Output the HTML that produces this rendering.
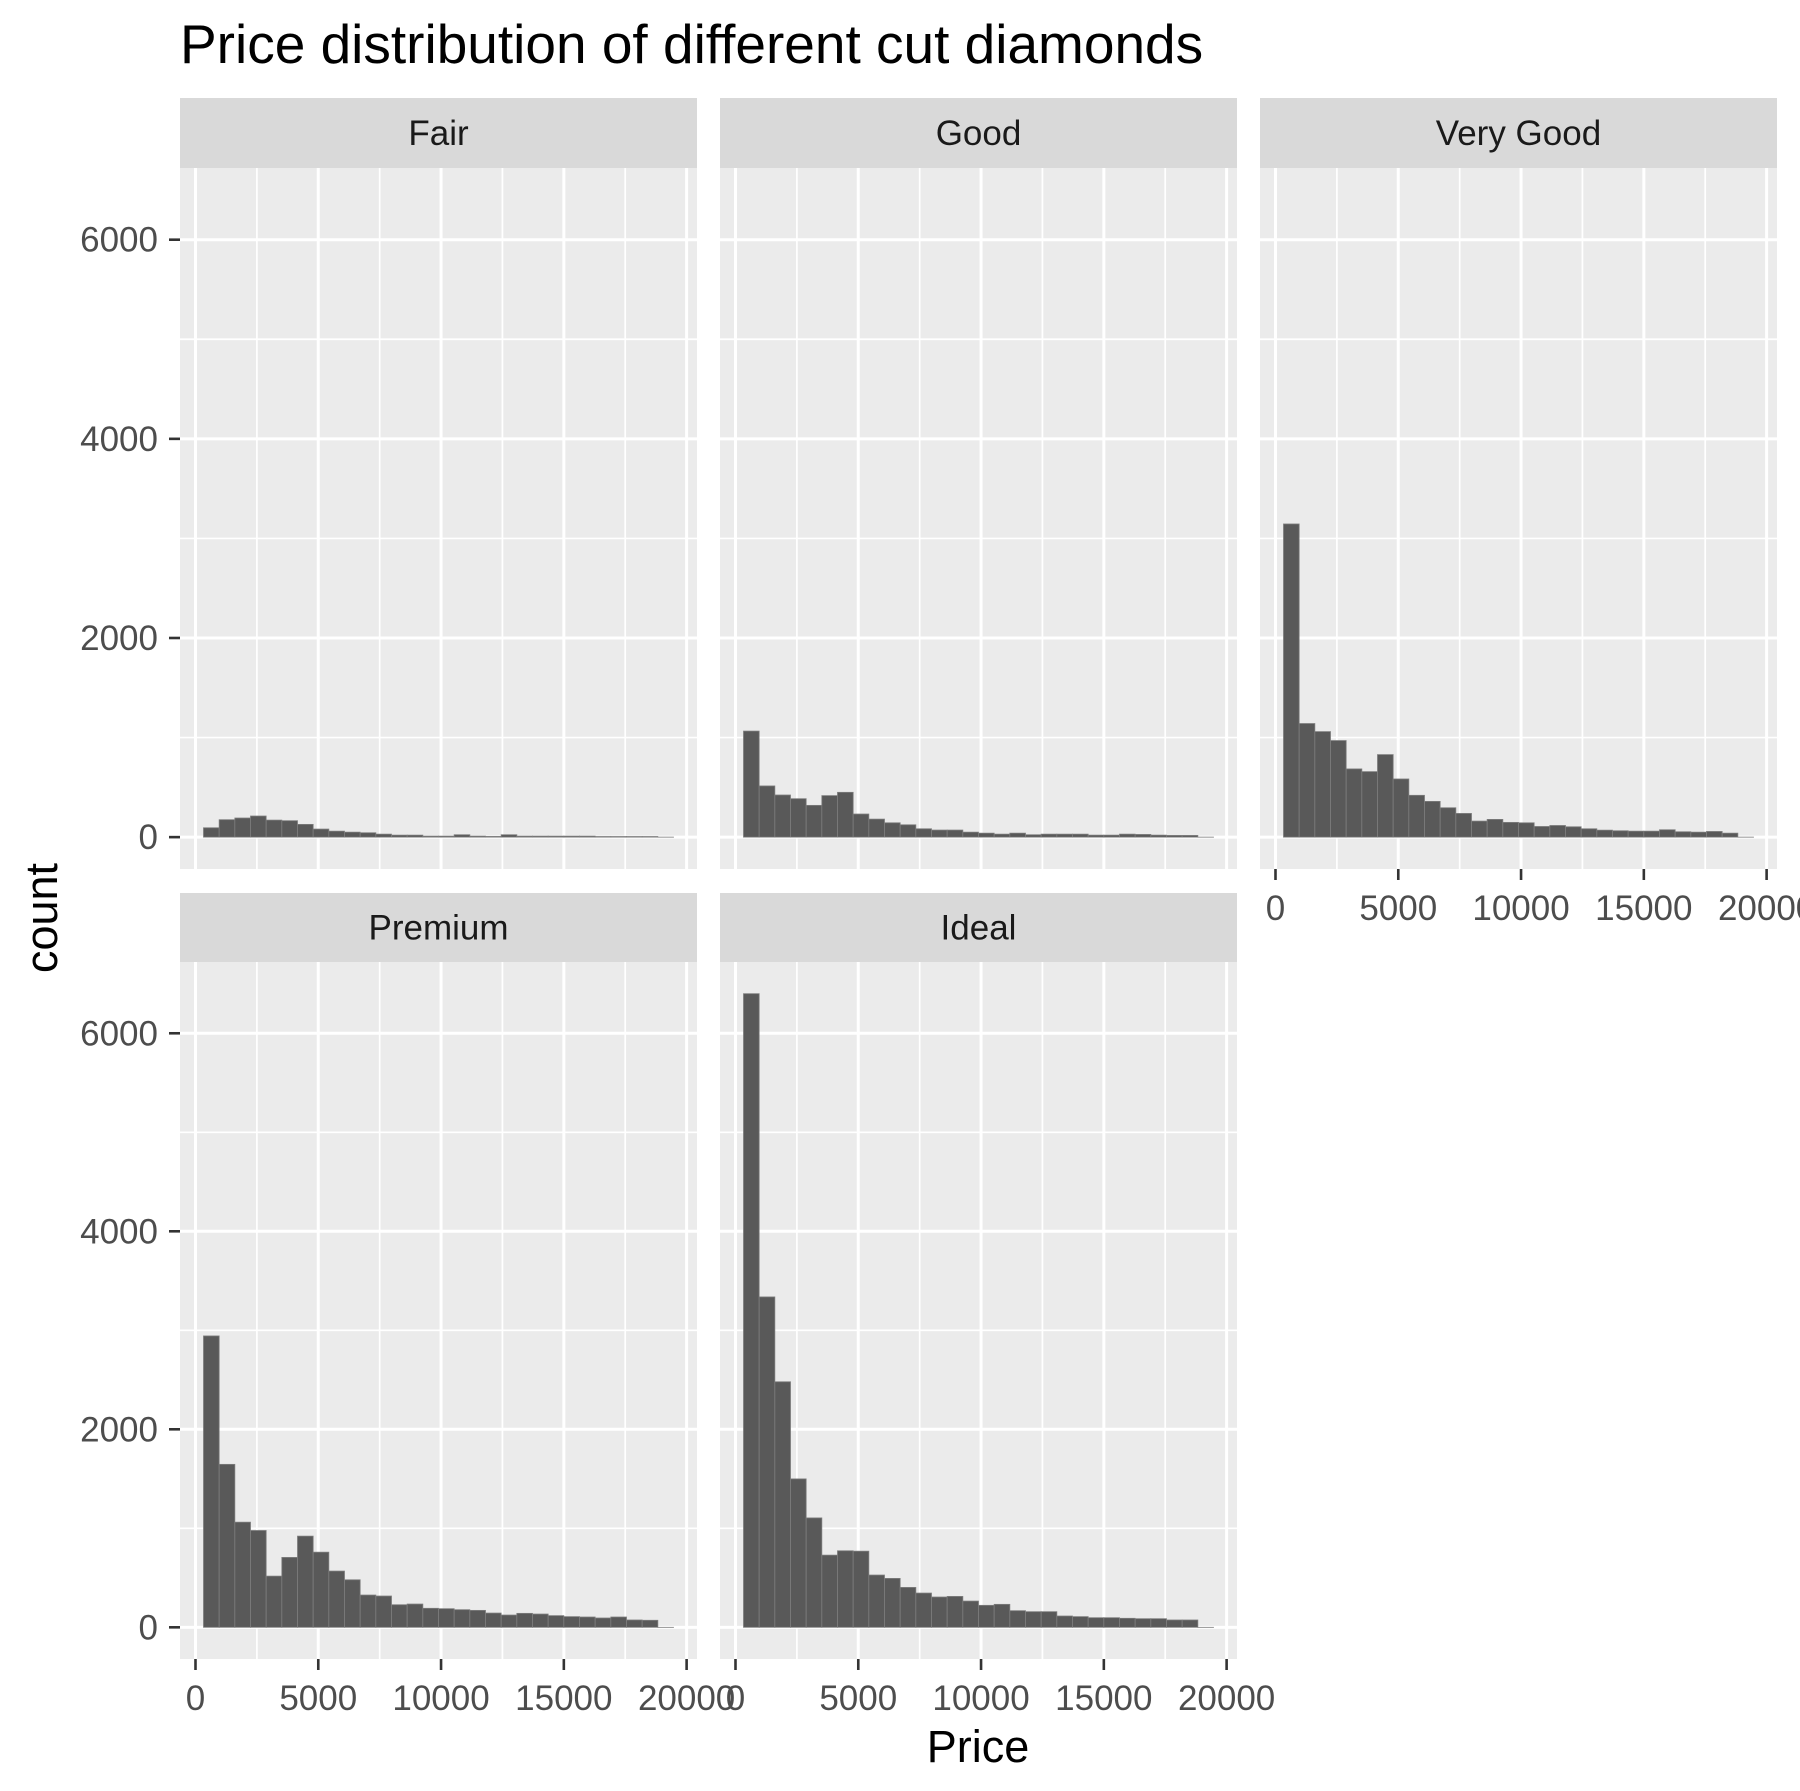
<!DOCTYPE html>
<html><head><meta charset="utf-8">
<style>
html,body{margin:0;padding:0;background:#fff;}
svg{display:block;font-family:"Liberation Sans",Arial,sans-serif;}
</style></head>
<body>
<svg id="chart" width="1800" height="1791" viewBox="0 0 1800 1791" xmlns="http://www.w3.org/2000/svg">
<rect x="0" y="0" width="1800" height="1791" fill="#ffffff"/>
<text x="180" y="63" font-size="55" fill="#000">Price distribution of different cut diamonds</text>
<text transform="translate(57,918) rotate(-90)" text-anchor="middle" font-size="45" fill="#000">count</text>
<text x="978" y="1762" text-anchor="middle" font-size="45" fill="#000">Price</text>
<g id="panels"></g>
</svg>
<script>
const facetNames = ["Fair","Good","Very Good","Premium","Ideal"];
const binStart = 326;
const binWidth = 638;
const fairCounts = [94,175,192,212,171,165,128,81,60,50,44,30,20,20,10,10,24,10,7,24,10,10,10,10,10,6,6,6,6,0];
const goodCounts = [1065,514,423,386,319,417,450,232,181,144,124,84,71,71,50,40,30,40,24,30,30,30,20,20,30,27,20,17,17,0];
const veryGoodCounts = [3145,1141,1060,970,685,658,829,584,420,359,295,238,161,178,148,144,107,117,104,84,70,64,60,60,74,54,50,57,40,0];
const premiumCounts = [2943,1646,1062,978,517,706,921,759,568,480,326,316,228,235,192,188,178,171,144,124,141,134,118,108,104,94,104,74,71,0];
const idealCounts = [6400,3337,2480,1499,1105,729,773,769,528,494,403,346,306,312,265,222,232,168,158,158,114,108,97,97,91,87,87,74,74,0];
const xTickValues = [0,5000,10000,15000,20000];
const xTickLabels = ["0","5000","10000","15000","20000"];
const xMinorValues = [2500,7500,12500,17500];
const yTickValues = [0,2000,4000,6000];
const yTickLabels = ["0","2000","4000","6000"];
const yMinorValues = [1000,3000,5000];

const NS = "http://www.w3.org/2000/svg";
const allCounts = [fairCounts,goodCounts,veryGoodCounts,premiumCounts,idealCounts];
const maxCount = Math.max(...allCounts.map(a => Math.max(...a)));
const dataMaxX = binStart + binWidth * fairCounts.length;
const xPad = (dataMaxX - binStart) * 0.05;
const xDomain = [binStart - xPad, dataMaxX + xPad];
const yDomain = [-0.05 * maxCount, 1.05 * maxCount];

const colsX = [180, 720, 1260];
const panelW = 517;
const rows = [{stripTop:98, top:168, bottom:869},{stripTop:893, top:962, bottom:1659}];

function mk(tag, attrs, parent){
  const e = document.createElementNS(NS, tag);
  for (const k in attrs) e.setAttribute(k, attrs[k]);
  parent.appendChild(e);
  return e;
}
const root = document.getElementById("panels");

facetNames.forEach((name, i) => {
  const col = i % 3, row = Math.floor(i / 3);
  const px = colsX[col], r = rows[row];
  const xs = v => px + (v - xDomain[0]) / (xDomain[1] - xDomain[0]) * panelW;
  const ys = v => r.bottom - (v - yDomain[0]) / (yDomain[1] - yDomain[0]) * (r.bottom - r.top);
  const g = mk("g", {}, root);
  
  
  const strip = mk("rect", {x:px, y:r.stripTop, width:panelW, height:r.top - r.stripTop, fill:"#D9D9D9"}, g);
  
  
  const st = mk("text", {x:px + panelW/2, y:(r.stripTop + r.top)/2 + 12, "text-anchor":"middle", "font-size":"35", fill:"#1A1A1A"}, g);
  st.textContent = name;
  
  
  const bg = mk("rect", {x:px, y:r.top, width:panelW, height:r.bottom - r.top, fill:"#EBEBEB"}, g);
  
  
  yMinorValues.forEach(v => {
    const l = mk("line", {x1:px, x2:px+panelW, y1:ys(v), y2:ys(v), stroke:"#fff", "stroke-width":"1.7"}, g);
    
    
  });
  xMinorValues.forEach(v => {
    const l = mk("line", {x1:xs(v), x2:xs(v), y1:r.top, y2:r.bottom, stroke:"#fff", "stroke-width":"1.7"}, g);
    
    
  });
  yTickValues.forEach(v => {
    const l = mk("line", {x1:px, x2:px+panelW, y1:ys(v), y2:ys(v), stroke:"#fff", "stroke-width":"3"}, g);
    
    
  });
  xTickValues.forEach(v => {
    const l = mk("line", {x1:xs(v), x2:xs(v), y1:r.top, y2:r.bottom, stroke:"#fff", "stroke-width":"3"}, g);
    
    
  });
  allCounts[i].forEach((c, b) => {
    const x0 = xs(binStart + b * binWidth), x1 = xs(binStart + (b+1) * binWidth);
    const y0 = ys(c), yz = ys(0);
    const bar = mk("rect", {x:x0, y:y0, width:x1 - x0, height:Math.max(yz - y0, 0.01), fill:"#595959", stroke:"#7d7d7d", "stroke-width":"0.8"}, g);
    
    
  });
  if (col === 0) {
    yTickValues.forEach((v, k) => {
      const t = mk("line", {x1:px - 11, x2:px, y1:ys(v), y2:ys(v), stroke:"#333", "stroke-width":"2.6"}, g);
      
      
      const tl = mk("text", {x:px - 22, y:ys(v) + 12, "text-anchor":"end", "font-size":"35", fill:"#4D4D4D"}, g);
      tl.textContent = yTickLabels[k];
      
      
    });
  }
  if (row === 1 || col === 2) {
    xTickValues.forEach((v, k) => {
      const t = mk("line", {x1:xs(v), x2:xs(v), y1:r.bottom, y2:r.bottom + 11, stroke:"#333", "stroke-width":"2.6"}, g);
      
      
      const tl = mk("text", {x:xs(v), y:r.bottom + 51, "text-anchor":"middle", "font-size":"35", fill:"#4D4D4D"}, g);
      tl.textContent = xTickLabels[k];
      
      
    });
  }
});
</script>
</body></html>
